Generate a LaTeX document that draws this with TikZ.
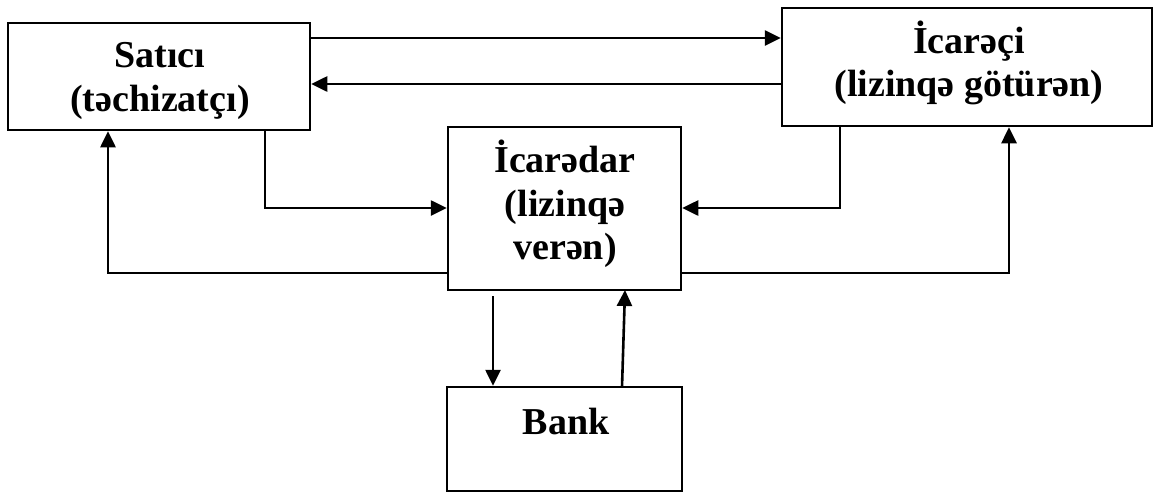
\documentclass[tikz,border=0pt]{standalone}
\usepackage{fontspec}
\setmainfont{Liberation Serif}
\usetikzlibrary{arrows.meta}
\begin{document}
\begin{tikzpicture}[x=1pt,y=-1pt,
  boxst/.style={draw,line width=2.5pt,rectangle,inner sep=0pt},
  lbl/.style={align=center,inner sep=0pt,font=\fontsize{38}{43.5}\selectfont\bfseries},
  conn/.style={line width=2.6pt},
  arr/.style={conn,-{Triangle[length=16pt,width=15pt]}}]
\useasboundingbox (0,0) rectangle (1153,493);
% boxes
\node[boxst,minimum width=302pt,minimum height=107pt] (sat) at (159,76.5) {};
\node[boxst,minimum width=370pt,minimum height=118pt] (ica) at (967,67) {};
\node[boxst,minimum width=233pt,minimum height=163pt] (dar) at (564.5,208.5) {};
\node[boxst,minimum width=235pt,minimum height=104pt] (bank) at (564.5,439) {};
% texts
\node[lbl] (satt) at (160,81) {Satıcı\\(təchizatçı)};
\node[lbl] (icat) at (969,63) {İcarəçi\\(lizinqə götürən)};
\node[lbl] (dart) at (565,204) {İcarədar\\(lizinqə\\verən)};
\node[lbl] (bankt) at (566,421) {Bank};
% helper coordinates
\coordinate (h38) at (0,38);
\coordinate (h84) at (0,84);
\coordinate (h208) at (0,208);
\coordinate (h273) at (0,273);
\coordinate (v265) at (265,0);
\coordinate (v840) at (840,0);
\coordinate (v108) at (108,0);
\coordinate (v1009) at (1009,0);
\coordinate (v493) at (493,0);
\coordinate (c1) at (265,208);
\coordinate (c2) at (840,208);
\coordinate (c3) at (108,273);
\coordinate (c4) at (1009,273);
\coordinate (dtop) at (493,296);
% connectors
\draw[arr] (sat.east |- h38) -- (ica.west |- h38);
\draw[arr] (ica.west |- h84) -- (sat.east |- h84);
\draw[arr] (sat.south -| v265) -- (c1) -- (dar.west |- h208);
\draw[arr] (ica.south -| v840) -- (c2) -- (dar.east |- h208);
\draw[arr] (dar.west |- h273) -- (c3) -- (sat.south -| v108);
\draw[arr] (dar.east |- h273) -- (c4) -- (ica.south -| v1009);
\draw[arr] (dtop) -- (bank.north -| v493);
\draw[arr] (622,387) coordinate (ub) -- (625,290) coordinate (ut);
\end{tikzpicture}
\end{document}
